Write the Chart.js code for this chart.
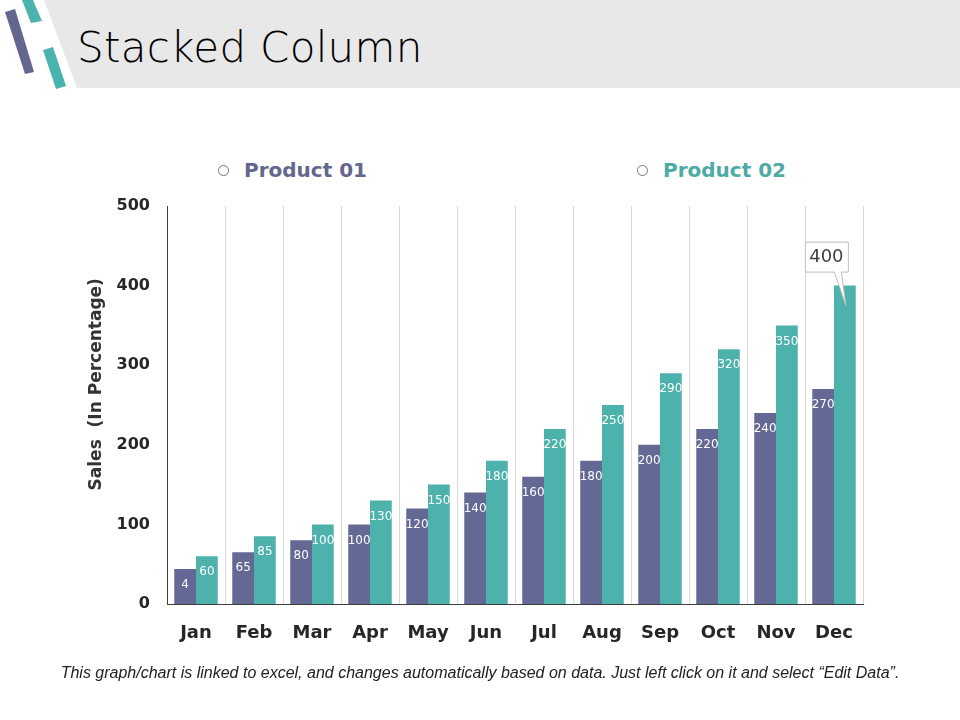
<!DOCTYPE html>
<html>
<head>
<meta charset="utf-8">
<script src="https://cdn.jsdelivr.net/npm/chart.js@4.4.0/dist/chart.umd.min.js"></script>
<style>
  html, body { margin: 0; padding: 0; background: #fff; }
  #wrap { position: relative; width: 960px; height: 720px; overflow: hidden; }
  #deco { position: absolute; left: 0; top: 0; }
  #title { position: absolute; left: 77px; top: 23px; font: 200 42px "DejaVu Sans"; color: #000; letter-spacing: 0.3px; }
  .leg { position: absolute; top: 158px; font: bold 20px "DejaVu Sans"; white-space: nowrap; }
  .leg .dot { display: inline-block; width: 9px; height: 9px; border: 1px solid #777; border-radius: 50%; margin-right: 15px; vertical-align: middle; position: relative; top: -1px; }
  #foot { position: absolute; left: 0; width: 960px; top: 664px; text-align: center; font: italic 16px "Liberation Sans Narrow", "Liberation Sans"; color: #222; }
  #chart { position: absolute; left: 0; top: 0; }
</style>
</head>
<body>
<div id="wrap">
  <svg id="deco" width="960" height="100">
    <polygon points="44,0 960,0 960,88 77,88" fill="#e8e8e8"/>
    <polygon points="5,12 15,9 34,72 25,74" fill="#63668f"/>
    <polygon points="22,0 33,0 42,21 31,23" fill="#4bb3ae"/>
    <polygon points="43,50 53,47 66,86 56,89" fill="#4bb3ae"/>
  </svg>
  <div id="title">Stacked Column</div>
  <div class="leg" style="left:218px;color:#63668f"><span class="dot"></span>Product 01</div>
  <div class="leg" style="left:637px;color:#4daba6"><span class="dot"></span>Product 02</div>
  <canvas id="chart" width="960" height="720"></canvas>
  <div id="foot">This graph/chart is linked to excel, and changes automatically based on data. Just left click on it and select “Edit Data”.</div>
</div>
<script>
const months = ["Jan", "Feb", "Mar", "Apr", "May", "Jun", "Jul", "Aug", "Sep", "Oct", "Nov", "Dec"]
const product01 = [44, 65, 80, 100, 120, 140, 160, 180, 200, 220, 240, 270]
const product02 = [60, 85, 100, 130, 150, 180, 220, 250, 290, 320, 350, 400]
// labels as printed on the bars (Jan of Product 01 shows "4" in the original)
const product01Labels = ["4", "65", "80", "100", "120", "140", "160", "180", "200", "220", "240", "270"]
const product02Labels = ["60", "85", "100", "130", "150", "180", "220", "250", "290", "320", "350", ""]
const yTicks = [0, 100, 200, 300, 400, 500]
const calloutText = "400"
const calloutIndex = 11

const colP1 = "#646894"
const colP2 = "#4db2ac"

//Plug in per le etichette dentro le barre
const barLabels = {
  id: "barLabels",
  afterDatasetsDraw(chart) {
    const { ctx } = chart
    const lists = [product01Labels, product02Labels]
    ctx.save()
    ctx.font = "12px 'DejaVu Sans'"
    ctx.fillStyle = "#ffffff"
    ctx.textAlign = "center"
    ctx.textBaseline = "middle"
    lists.forEach((labels, d) => {
      chart.getDatasetMeta(d).data.forEach((bar, i) => {
        if (labels[i]) ctx.fillText(labels[i], bar.x, bar.y + 16)
      })
    })
    ctx.restore()
  },
}

//Plug in per il fumetto sul valore di dicembre
const callout = {
  id: "callout",
  afterDraw(chart) {
    const { ctx } = chart
    const bar = chart.getDatasetMeta(1).data[calloutIndex]
    const w = 43, h = 30
    const right = bar.x + 3
    const left = right - w
    const top = bar.y - 44
    const bottom = top + h
    ctx.save()
    ctx.fillStyle = "#ffffff"
    ctx.strokeStyle = "#bdbdbd"
    ctx.lineWidth = 1
    ctx.beginPath()
    ctx.moveTo(left + 0.5, top + 0.5)
    ctx.lineTo(right + 0.5, top + 0.5)
    ctx.lineTo(right + 0.5, bottom + 0.5)
    ctx.lineTo(right - 6.5, bottom + 0.5)
    ctx.lineTo(bar.x + 1, bar.y + 20)
    ctx.lineTo(right - 13.5, bottom + 0.5)
    ctx.lineTo(left + 0.5, bottom + 0.5)
    ctx.closePath()
    ctx.fill()
    ctx.stroke()
    ctx.fillStyle = "#404040"
    ctx.font = "18px 'DejaVu Sans'"
    ctx.textAlign = "center"
    ctx.textBaseline = "middle"
    ctx.fillText(calloutText, (left + right) / 2, (top + bottom) / 2 + 1)
    ctx.restore()
  },
}

const ctx = document.getElementById("chart").getContext("2d")
const chart = new Chart(ctx, {
  type: "bar",
  plugins: [barLabels, callout],
  data: {
    labels: months,
    datasets: [
      { label: "Product 01", data: product01, backgroundColor: colP1, categoryPercentage: 0.75, barPercentage: 1.0 },
      { label: "Product 02", data: product02, backgroundColor: colP2, categoryPercentage: 0.75, barPercentage: 1.0 },
    ],
  },
  options: {
    responsive: false,
    animation: false,
    devicePixelRatio: 1,
    layout: { padding: { left: 80, top: 206, right: 97, bottom: 76 } },
    plugins: { legend: { display: false }, tooltip: { enabled: false } },
    scales: {
      x: {
        grid: { display: true, color: "#d9d9d9", drawTicks: false, offset: true },
        border: { display: true, color: "#404040", width: 1 },
        ticks: { color: "#262626", font: { family: "DejaVu Sans", weight: "bold", size: 18 }, padding: 19 },
        afterFit(scale) { scale.height = 40 },
      },
      y: {
        min: 0,
        max: 500,
        afterBuildTicks(scale) { scale.ticks = yTicks.map(v => ({ value: v })) },
        grid: { display: false, drawTicks: false },
        border: { display: true, color: "#404040", width: 1 },
        ticks: { color: "#262626", font: { family: "DejaVu Sans", weight: "bold", size: 16 }, padding: 17 },
        title: {
          display: true,
          // leading spaces lift the title a little above the axis centre, as in the original
          text: "       Sales  (In Percentage)",
          color: "#333333",
          font: { family: "DejaVu Sans", weight: "bold", size: 17 },
          padding: { top: 6, bottom: 0 },
        },
        afterFit(scale) { scale.width = 87 },
      },
    },
  },
})
</script>
</body>
</html>
